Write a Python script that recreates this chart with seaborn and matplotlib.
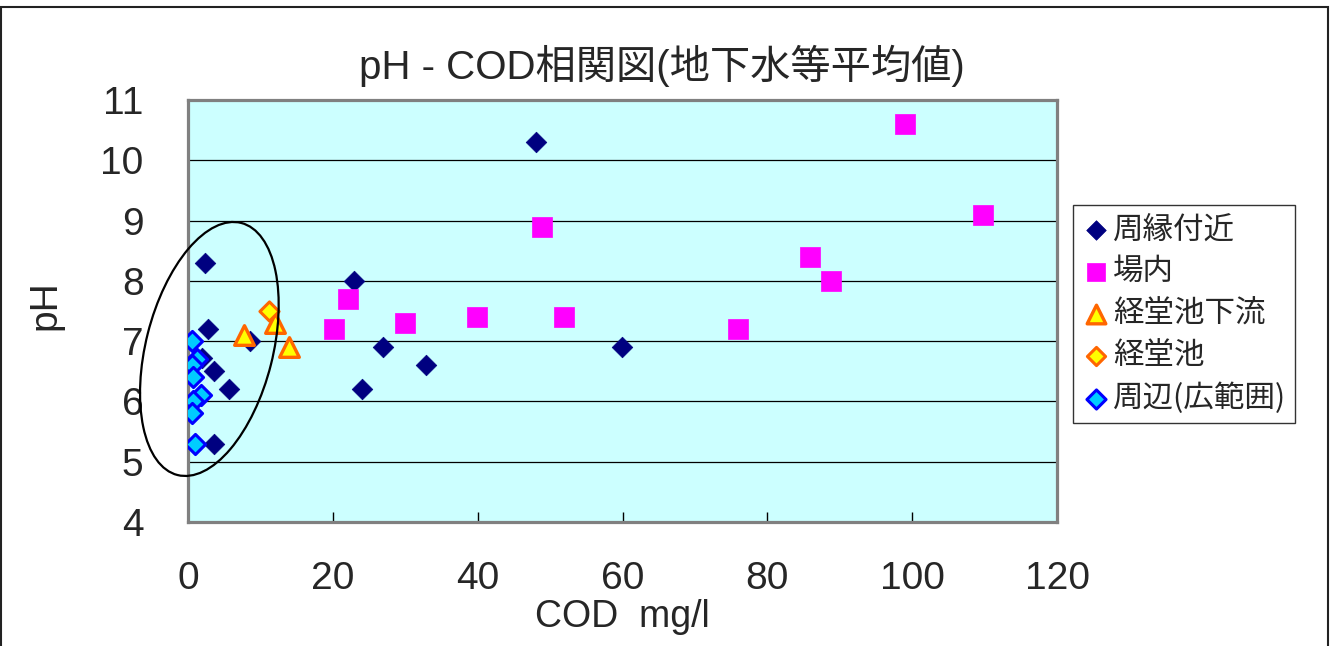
import matplotlib
matplotlib.use("Agg")
import matplotlib.pyplot as plt
import matplotlib.transforms as mtransforms
from matplotlib.patches import Ellipse, Rectangle
import seaborn as sns
import pandas as pd

# --- data: COD (mg/l) and pH per sampling group ---
series_names = ["周縁付近", "場内", "経堂池下流", "経堂池", "周辺(広範囲)"]

cod_periphery = [48.0, 2.3, 2.8, 8.6, 22.9, 26.9, 32.9, 24.0, 59.9, 3.6, 5.7, 3.6, 1.9]
ph_periphery = [10.3, 8.3, 7.2, 7.0, 8.0, 6.9, 6.6, 6.2, 6.9, 6.5, 6.2, 5.3, 6.72]

cod_site = [99.0, 109.8, 48.9, 22.1, 20.2, 30.0, 39.9, 51.9, 76.0, 85.9, 88.8]
ph_site = [10.6, 9.1, 8.9, 7.7, 7.2, 7.3, 7.4, 7.4, 7.2, 8.4, 8.0]

cod_downstream = [7.7, 12.0, 14.0]
ph_downstream = [7.1, 7.3, 6.9]

cod_pond = [11.2]
ph_pond = [7.5]

cod_wide = [0.6, 1.2, 0.6, 0.7, 1.8, 0.7, 0.6, 1.0]
ph_wide = [7.0, 6.7, 6.6, 6.4, 6.1, 6.0, 5.8, 5.3]

x_ticks = [0, 20, 40, 60, 80, 100, 120]
y_ticks = [4, 5, 6, 7, 8, 9, 10, 11]

frames = []
for name, xs, ys in zip(series_names,
                        [cod_periphery, cod_site, cod_downstream, cod_pond, cod_wide],
                        [ph_periphery, ph_site, ph_downstream, ph_pond, ph_wide]):
    frames.append(pd.DataFrame({"COD": xs, "pH": ys, "group": name}))
df = pd.concat(frames, ignore_index=True)

styles = {
    "周縁付近": dict(marker="D", s=110, color="#000080", edgecolor="#000080", linewidth=0.5),
    "場内": dict(marker="s", s=205, color="#FF00FF", edgecolor="#FF00FF", linewidth=0.5),
    "経堂池下流": dict(marker="^", s=200, color="#FFFF00", edgecolor="#FF6600", linewidth=2.4),
    "経堂池": dict(marker="D", s=95, color="#FFFF00", edgecolor="#FF6600", linewidth=2.2),
    "周辺(広範囲)": dict(marker="D", s=105, color="#00CCFF", edgecolor="#0000FF", linewidth=2.2),
}

sns.set_style("white")
plt.rcParams["font.family"] = ["Liberation Sans", "Noto Sans CJK JP", "DejaVu Sans"]

fig = plt.figure(figsize=(13.37, 6.46), dpi=100)
ax = fig.add_axes([188 / 1337, 124 / 646, 869 / 1337, 422 / 646])
ax.set_facecolor("#CCFFFF")

for name in series_names:
    sub = df[df["group"] == name]
    sns.scatterplot(data=sub, x="COD", y="pH", ax=ax, label=name, zorder=3, **styles[name])

ax.set_xlim(0, 120)
ax.set_ylim(4, 11)
ax.set_xticks(x_ticks)
ax.set_yticks(y_ticks)
ax.set_xticklabels([str(v) for v in x_ticks])
ax.set_yticklabels([str(v) for v in y_ticks])
ax.tick_params(axis="x", direction="in", length=7, width=1.0, color="#000000",
               labelsize=28, pad=28, bottom=True)
ax.tick_params(axis="y", length=0, labelsize=28, pad=32)
ax.set_xlabel("")
ax.set_ylabel("")

for v in y_ticks[1:-1]:
    ax.axhline(v, color="#000000", linewidth=0.9, zorder=1)

for sp in ax.spines.values():
    sp.set_color("#808080")
    sp.set_linewidth(2.3)
    sp.set_visible(True)

# highlight ellipse around the low-COD cluster
ell_trans = fig.dpi_scale_trans + mtransforms.ScaledTranslation(2.95, 6.87, ax.transData)
ell = Ellipse((0, 0), width=1.27, height=2.60, angle=-14.2, fill=False,
              edgecolor="#000000", linewidth=1.6, transform=ell_trans, clip_on=False, zorder=4)
ax.add_patch(ell)

fig.text(662 / 1337, 1 - 66 / 646, "pH - COD相関図(地下水等平均値)", ha="center", va="center",
         fontsize=29, family=["Liberation Sans", "Noto Sans CJK JP"])
fig.text(45 / 1337, 1 - 305 / 646, "pH", ha="center", va="center", rotation=90,
         fontsize=28)
fig.text(622 / 1337, 1 - 617 / 646, "COD  mg/l", ha="center", va="center",
         fontsize=27)

leg = ax.legend(loc="upper left", bbox_to_anchor=(1073 / 1337, 1 - 205 / 646),
                bbox_transform=fig.transFigure, frameon=True, fancybox=False,
                prop={"family": ["Noto Sans CJK JP"], "size": 22},
                handletextpad=0.1, handlelength=0.9, labelspacing=0.36,
                borderpad=0.3, borderaxespad=0, markerscale=0.95)
leg.get_frame().set_edgecolor("#000000")
leg.get_frame().set_linewidth(1.0)

# outer chart border
fig.add_artist(Rectangle((1 / 1337, -0.05), 1327 / 1337, 1.05 - 7 / 646, transform=fig.transFigure,
                         fill=False, edgecolor="#222222", linewidth=1.5))

fig.savefig("out.png", dpi=100, facecolor="white")
